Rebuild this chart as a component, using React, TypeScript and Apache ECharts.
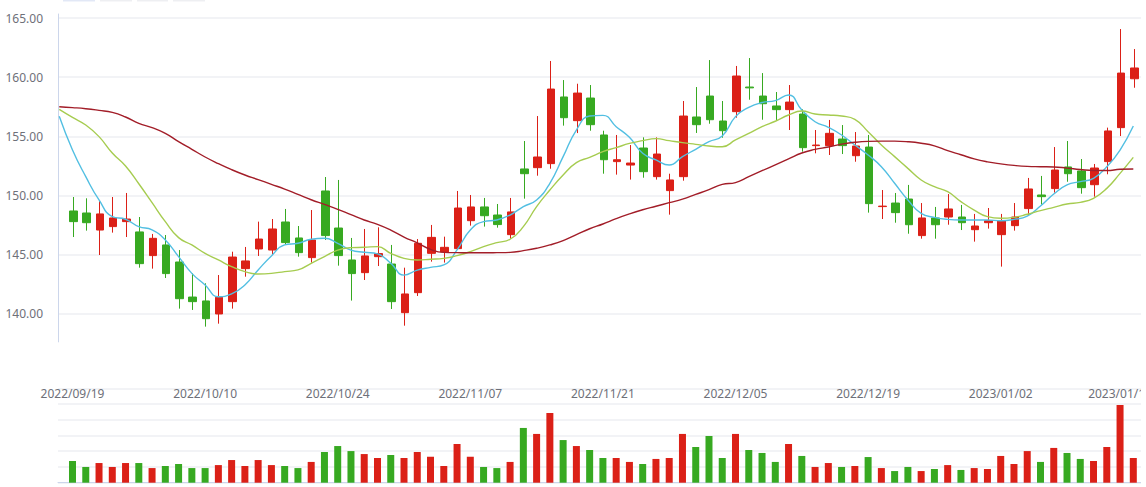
import React, { useEffect, useRef } from 'react';
import * as echarts from 'echarts';

// Trading days shown on the chart
const dates: string[] = [
  '2022/09/19', '2022/09/20', '2022/09/21', '2022/09/22', '2022/09/23', '2022/09/26', '2022/09/27', '2022/09/28', '2022/09/29', '2022/09/30',
  '2022/10/10', '2022/10/11', '2022/10/12', '2022/10/13', '2022/10/14', '2022/10/17', '2022/10/18', '2022/10/19', '2022/10/20', '2022/10/21',
  '2022/10/24', '2022/10/25', '2022/10/26', '2022/10/27', '2022/10/28', '2022/10/31', '2022/11/01', '2022/11/02', '2022/11/03', '2022/11/04',
  '2022/11/07', '2022/11/08', '2022/11/09', '2022/11/10', '2022/11/11', '2022/11/14', '2022/11/15', '2022/11/16', '2022/11/17', '2022/11/18',
  '2022/11/21', '2022/11/22', '2022/11/23', '2022/11/24', '2022/11/25', '2022/11/28', '2022/11/29', '2022/11/30', '2022/12/01', '2022/12/02',
  '2022/12/05', '2022/12/06', '2022/12/07', '2022/12/08', '2022/12/09', '2022/12/12', '2022/12/13', '2022/12/14', '2022/12/15', '2022/12/16',
  '2022/12/19', '2022/12/20', '2022/12/21', '2022/12/22', '2022/12/23', '2022/12/26', '2022/12/27', '2022/12/28', '2022/12/29', '2022/12/30',
  '2023/01/02', '2023/01/03', '2023/01/04', '2023/01/05', '2023/01/06', '2023/01/09', '2023/01/10', '2023/01/11', '2023/01/12', '2023/01/13',
  '2023/01/16',
];

// Indices of the dates that carry an axis label
const labelIndices: number[] = [0, 10, 20, 30, 40, 50, 60, 70, 79];

// [open, close, low, high]
const ohlc: number[][] = [
  [148.70, 147.80, 146.50, 149.88], [148.53, 147.71, 147.04, 149.77], [147.09, 148.45, 144.98, 149.54], [147.38, 148.11, 146.87, 149.88],
  [147.80, 148.02, 146.50, 150.22], [146.93, 144.25, 143.91, 148.19], [144.93, 146.39, 143.83, 146.76], [145.83, 143.41, 143.04, 146.67],
  [144.39, 141.29, 140.45, 145.40], [141.43, 141.04, 140.34, 143.43], [141.10, 139.60, 138.93, 142.59], [140.00, 141.41, 139.18, 143.29],
  [141.04, 144.81, 140.45, 145.26], [143.83, 144.48, 143.15, 145.66], [145.49, 146.33, 144.90, 147.80], [145.40, 147.18, 145.01, 148.02],
  [147.77, 146.03, 145.90, 148.87], [146.42, 145.18, 144.84, 147.43], [144.76, 146.25, 144.34, 148.78], [150.39, 146.62, 146.25, 151.57],
  [147.26, 144.93, 144.08, 151.32], [144.56, 143.41, 141.13, 146.42], [143.49, 144.90, 142.87, 147.18], [144.84, 145.10, 144.05, 147.32],
  [144.22, 141.04, 140.42, 145.83], [140.11, 141.69, 139.01, 143.91], [141.80, 145.97, 141.52, 146.33], [145.12, 146.47, 144.42, 147.52],
  [145.24, 145.63, 144.34, 146.53], [145.52, 148.95, 145.41, 150.39], [147.88, 149.04, 147.46, 150.05], [149.04, 148.30, 147.38, 149.80],
  [148.36, 147.55, 147.29, 149.29], [146.70, 148.62, 146.36, 149.80], [152.25, 151.85, 149.74, 154.61], [152.36, 153.26, 151.68, 156.72],
  [152.70, 159.00, 152.27, 161.37], [158.33, 156.58, 155.91, 159.76], [156.33, 158.66, 155.28, 159.45], [158.24, 155.99, 155.48, 159.34],
  [155.12, 153.03, 151.85, 155.48], [152.87, 153.03, 151.77, 155.12], [152.58, 152.75, 151.35, 154.27], [154.02, 152.02, 151.51, 154.92],
  [151.60, 153.51, 151.35, 154.92], [150.42, 151.32, 148.39, 151.85], [151.60, 156.72, 151.26, 157.99], [156.64, 155.99, 155.29, 159.17],
  [158.41, 156.41, 156.07, 161.45], [156.30, 155.48, 154.89, 157.99], [157.09, 160.10, 156.58, 160.95], [159.17, 159.10, 158.10, 161.62],
  [158.41, 157.76, 156.41, 160.35], [157.57, 157.26, 156.39, 158.75], [157.26, 157.90, 155.54, 159.34], [156.89, 154.05, 153.71, 157.29],
  [154.22, 154.27, 153.57, 155.54], [154.22, 155.26, 153.43, 156.39], [154.78, 154.22, 153.51, 155.96], [153.37, 154.19, 152.86, 155.37],
  [154.10, 149.32, 148.56, 155.12], [149.07, 149.11, 148.02, 150.47], [149.37, 148.56, 147.71, 150.22], [149.71, 147.54, 146.78, 150.90],
  [146.62, 148.11, 146.36, 149.37], [148.11, 147.54, 146.36, 149.04], [148.19, 148.87, 147.54, 150.13], [148.19, 147.71, 147.09, 149.21],
  [147.12, 147.43, 146.11, 148.45], [147.71, 147.88, 147.21, 148.95], [146.70, 147.85, 144.00, 148.45], [147.46, 148.19, 147.04, 149.37],
  [148.90, 150.56, 148.31, 151.49], [150.05, 149.91, 149.24, 151.66], [150.59, 152.16, 150.25, 154.10], [152.42, 151.85, 151.17, 154.61],
  [152.08, 150.67, 150.16, 153.09], [150.92, 152.33, 149.91, 152.67], [152.87, 155.46, 151.80, 155.74], [155.74, 160.35, 155.03, 164.07],
  [159.87, 160.78, 159.11, 162.38],
];

const volumes: number[] = [
  13.8, 10.0, 12.5, 10.0, 12.5, 12.5, 9.3, 10.6, 11.9, 9.3,
  9.3, 11.2, 14.4, 10.6, 14.4, 11.2, 10.6, 9.3, 13.2, 19.5,
  23.3, 20.1, 18.2, 15.7, 17.6, 15.7, 19.5, 16.5, 10.6, 24.6,
  16.5, 10.0, 9.3, 13.2, 34.8, 31.0, 44.3, 27.1, 23.3, 20.8,
  15.7, 15.7, 13.2, 11.9, 15.1, 15.7, 31.0, 22.7, 29.7, 15.7,
  31.0, 20.8, 18.9, 13.2, 24.6, 17.0, 10.0, 12.5, 10.0, 10.6,
  16.3, 9.3, 7.4, 10.0, 7.4, 8.7, 11.2, 8.1, 9.3, 8.7,
  17.0, 11.9, 20.1, 13.2, 22.1, 18.9, 15.1, 13.8, 22.7, 49.4,
  15.7,
];

// Moving averages; the first value belongs to the session before the first shown date
const maStart = -1;
const ma5: number[] = [
  156.7,
  153.85, 151.6, 149.63, 148.22, 148.0, 147.38, 147.1, 146.25, 144.84, 143.43,
  142.45, 141.46, 141.69, 142.45, 143.72, 144.9, 145.83, 145.97, 146.31, 146.39,
  145.97, 145.4, 145.21, 145.07, 144.28, 143.28, 143.7, 143.94, 144.14, 145.41,
  147.09, 147.8, 147.94, 148.36, 149.07, 149.63, 151.04, 153.29, 155.54, 156.72,
  156.78, 155.82, 154.92, 153.57, 153.01, 152.58, 153.29, 153.91, 154.55, 155.03,
  156.67, 157.45, 157.86, 158.02, 158.5, 157.23, 156.24, 155.77, 155.12, 154.27,
  153.43, 152.44, 151.04, 149.63, 148.5, 148.16, 147.99, 147.94, 147.94, 147.94,
  147.88, 147.99, 148.27, 149.12, 150.13, 150.9, 151.18, 151.46, 152.44, 153.85,
  155.88,
];
const ma10: number[] = [
  157.28,
  156.6, 155.96, 154.98, 153.6, 152.5, 151.0, 149.4, 147.8, 146.45, 145.83,
  145.12, 144.56, 144.0, 143.58, 143.38, 143.43, 143.58, 143.72, 144.28, 144.84,
  145.4, 145.6, 145.63, 145.69, 145.12, 144.7, 144.56, 144.62, 144.7, 144.93,
  145.26, 145.69, 146.03, 146.31, 147.38, 149.07, 150.47, 151.74, 152.78, 153.23,
  153.71, 154.05, 154.41, 154.64, 154.81, 154.64, 154.47, 154.33, 154.19, 154.13,
  154.7, 155.26, 155.82, 156.28, 156.81, 157.14, 156.89, 156.81, 156.72, 156.44,
  155.4, 154.27, 153.29, 152.3, 151.32, 150.75, 150.33, 149.49, 148.78, 148.22,
  148.08, 148.16, 148.42, 148.73, 149.01, 149.29, 149.43, 149.77, 150.61, 151.88,
  153.23,
];
const ma30: number[] = [
  157.5,
  157.43, 157.34, 157.2, 157.03, 156.64, 156.1, 155.74, 155.26, 154.56, 153.91,
  153.26, 152.7, 152.19, 151.74, 151.35, 150.95, 150.55, 150.1, 149.65, 149.25,
  148.84, 148.39, 147.94, 147.57, 147.09, 146.5, 146.0, 145.45, 145.2, 145.18,
  145.17, 145.17, 145.18, 145.2, 145.35, 145.55, 145.83, 146.2, 146.7, 147.2,
  147.6, 148.05, 148.45, 148.8, 149.1, 149.4, 149.7, 150.1, 150.5, 150.95,
  151.1, 151.6, 152.1, 152.6, 153.1, 153.6, 153.9, 154.1, 154.35, 154.5,
  154.58, 154.6, 154.6, 154.55, 154.42, 154.2, 153.8, 153.45, 153.1, 152.85,
  152.68, 152.55, 152.47, 152.44, 152.42, 152.32, 152.2, 152.12, 152.12, 152.22,
  152.25,
];

const RED = '#db2017';
const GREEN = '#37a921';
const AXIS = '#ccd6eb';
const SPLIT = '#f2f3f6';
const LABEL = '#6e7079';
const FONT = '"Noto Sans", sans-serif';

export default function App() {
  const ref = useRef<HTMLDivElement>(null);

  useEffect(() => {
    if (!ref.current) return;
    const chart = echarts.init(ref.current, undefined, { renderer: 'svg' });
    const xMin = -1.094;
    const xMax = 80.58;
    const yMin = 137.64;
    const yMax = 165.34;
    const hidden = {
      axisLine: { show: false, onZero: false },
      axisTick: { show: false },
      axisLabel: { show: false },
      splitLine: { show: false },
    };

    chart.setOption({
      animation: false,
      textStyle: { fontFamily: FONT },
      graphic: [
        { type: 'rect', shape: { x: 63, y: 0, width: 32, height: 1.5 }, style: { fill: '#e2e8f6' } },
        { type: 'rect', shape: { x: 100, y: 0, width: 32, height: 1.5 }, style: { fill: '#eeeff2' } },
        { type: 'rect', shape: { x: 137, y: 0, width: 31, height: 1.5 }, style: { fill: '#eeeff2' } },
        { type: 'rect', shape: { x: 173, y: 0, width: 32, height: 1.5 }, style: { fill: '#eeeff2' } },
      ],
      grid: [
        // candles
        { left: 66.67, top: 14, width: 1074.33, height: 327.9, outerBoundsMode: 'none', containLabel: false },
        // price axis, moving averages
        { left: 58, top: 14, width: 1083, height: 327.9, outerBoundsMode: 'none', containLabel: false },
        // volume
        { left: 58, top: 388.3, width: 1083, height: 94.4, outerBoundsMode: 'none', containLabel: false },
      ],
      xAxis: [
        { type: 'category', gridIndex: 0, data: dates, boundaryGap: true, ...hidden },
        {
          type: 'value', gridIndex: 1, min: xMin, max: xMax,
          axisLine: { show: false, onZero: false }, axisTick: { show: false }, splitLine: { show: false },
          axisLabel: {
            margin: 46, color: LABEL, fontSize: 12, fontFamily: FONT,
            customValues: labelIndices,
            formatter: (v: number) => dates[Math.round(v)] ?? '',
          },
        },
        {
          type: 'value', gridIndex: 2, min: xMin, max: xMax,
          axisLine: { show: true, onZero: false, lineStyle: { color: AXIS, width: 1 } },
          axisTick: { show: false }, axisLabel: { show: false }, splitLine: { show: false },
        },
      ],
      yAxis: [
        { type: 'value', gridIndex: 0, min: yMin, max: yMax, ...hidden },
        {
          type: 'value', gridIndex: 1, min: yMin, max: yMax, splitNumber: 5,
          axisLine: { show: true, onZero: false, lineStyle: { color: AXIS, width: 1 } },
          axisTick: { show: false },
          axisLabel: {
            margin: 15, color: LABEL, fontSize: 12, fontFamily: FONT,
            showMinLabel: false, showMaxLabel: false,
            formatter: (v: number) => v.toFixed(2),
          },
          splitLine: { show: true, showMinLine: false, showMaxLine: false, lineStyle: { color: SPLIT, width: 2 } },
        },
        {
          type: 'value', gridIndex: 2, min: 0, max: 60, interval: 10,
          axisLine: { show: false, onZero: false }, axisTick: { show: false }, axisLabel: { show: false },
          splitLine: { show: true, lineStyle: { color: SPLIT, width: 2 } },
        },
      ],
      series: [
        {
          name: 'K', type: 'candlestick', xAxisIndex: 0, yAxisIndex: 0,
          barWidth: 8,
          data: ohlc,
          itemStyle: { color: RED, color0: GREEN, borderColor: RED, borderColor0: GREEN, borderWidth: 1 },
        },
        {
          name: 'MA5', type: 'line', xAxisIndex: 1, yAxisIndex: 1, smooth: true, showSymbol: false,
          data: ma5.map((v, k) => [k + maStart, v]),
          lineStyle: { color: '#52bfe2', width: 1.4 }, itemStyle: { color: '#52bfe2' },
        },
        {
          name: 'MA10', type: 'line', xAxisIndex: 1, yAxisIndex: 1, smooth: true, showSymbol: false,
          data: ma10.map((v, k) => [k + maStart, v]),
          lineStyle: { color: '#a6cc50', width: 1.4 }, itemStyle: { color: '#a6cc50' },
        },
        {
          name: 'MA30', type: 'line', xAxisIndex: 1, yAxisIndex: 1, smooth: true, showSymbol: false,
          data: ma30.map((v, k) => [k + maStart, v]),
          lineStyle: { color: '#a21d28', width: 1.4 }, itemStyle: { color: '#a21d28' },
        },
        {
          name: 'Volume', type: 'bar', xAxisIndex: 2, yAxisIndex: 2, barWidth: 7,
          data: volumes.map((v, i) => ({
            value: [i, v],
            itemStyle: { color: ohlc[i][1] >= ohlc[i][0] ? RED : GREEN },
          })),
        },
      ],
    });

    return () => chart.dispose();
  }, []);

  return (
    <div
      ref={ref}
      style={{ position: 'absolute', left: 0, top: 0, width: 1141, height: 487, overflow: 'hidden' }}
    />
  );
}
